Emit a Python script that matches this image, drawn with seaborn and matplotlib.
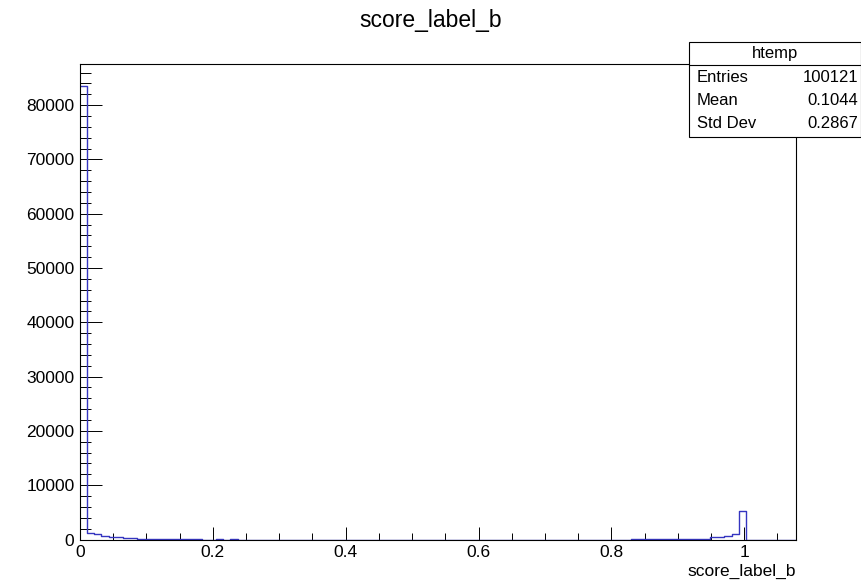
import numpy as np
import pandas as pd
import matplotlib
matplotlib.use("Agg")
import matplotlib.pyplot as plt
import seaborn as sns
from matplotlib.ticker import MultipleLocator
from matplotlib.patches import Rectangle
from matplotlib.lines import Line2D

# ---- data ----
n_bins = 100
x_min, x_max = 0.0, 1.078
counts = [0] * n_bins
left_counts = [83500, 1250, 950, 700, 500, 380, 260, 210, 180, 160, 150, 140,
               130, 120, 110, 100, 90]
for i, c in enumerate(left_counts):
    counts[i] = c
counts[19] = 60
counts[21] = 50
right_counts = [110, 120, 120, 130, 130, 140, 140, 150, 160, 170, 180,
                400, 420, 700, 1100, 5300]
for j, c in enumerate(right_counts):
    counts[77 + j] = c

stat_names = ["Entries", "Mean", "Std Dev"]
stat_values = ["100121", "0.1044", "0.2867"]
hist_name = "htemp"
title = "score_label_b"
x_label = "score_label_b"

edges = np.linspace(x_min, x_max, n_bins + 1)
centers = 0.5 * (edges[:-1] + edges[1:])
df = pd.DataFrame({"x": centers, "w": counts})

# ---- figure ----
sns.set_style("white")
plt.rcParams["font.family"] = ["Liberation Sans", "DejaVu Sans"]
plt.rcParams["text.color"] = "black"
plt.rcParams["axes.labelcolor"] = "black"

W, H = 862, 583
fig = plt.figure(figsize=(W / 100, H / 100), dpi=100)
ax = fig.add_axes([80 / W, 1 - 539.5 / H, (796 - 80) / W, (539.5 - 64) / H])

sns.histplot(data=df, x="x", weights="w", bins=n_bins, binrange=(x_min, x_max),
             element="step", fill=False, color="#3535c0", linewidth=1.0, ax=ax)

ax.set_xlim(x_min, x_max)
ax.set_ylim(0, 87570)
ax.set_ylabel("")
ax.set_xlabel(x_label, loc="right", fontsize=12.5, labelpad=3, color="black")

for s in ax.spines.values():
    s.set_color("black")
    s.set_linewidth(0.8)
    s.set_zorder(3)

ax.xaxis.set_major_locator(MultipleLocator(0.2))
ax.xaxis.set_minor_locator(MultipleLocator(0.05))
ax.yaxis.set_major_locator(MultipleLocator(10000))
ax.yaxis.set_minor_locator(MultipleLocator(2000))
ax.xaxis.set_major_formatter(matplotlib.ticker.FuncFormatter(lambda v, p: f"{v:g}"))
ax.yaxis.set_major_formatter(matplotlib.ticker.FuncFormatter(lambda v, p: f"{int(round(v))}"))

ax.tick_params(axis="both", which="both", direction="in", color="black",
               width=0.7, labelsize=12.5, labelcolor="black",
               left=True, bottom=True, top=False, right=False)
ax.tick_params(axis="x", which="major", length=9.4, pad=4)
ax.tick_params(axis="x", which="minor", length=5)
ax.tick_params(axis="y", which="major", length=15.8, pad=4)
ax.tick_params(axis="y", which="minor", length=8)

# title
fig.text(0.5, 1 - 21 / H, title, ha="center", va="center", fontsize=16.5,
         color="black")

# stats box
bx0, bx1 = 689 / W, 861 / W
by0, by1 = 1 - 137 / H, 1 - 42 / H
fig.patches.append(Rectangle((bx0, by0), bx1 - bx0, by1 - by0,
                             transform=fig.transFigure, facecolor="white",
                             edgecolor="black", linewidth=0.8, zorder=5))
fig.lines.append(Line2D([bx0, bx1], [1 - 65 / H, 1 - 65 / H],
                        transform=fig.transFigure, color="black",
                        linewidth=0.8, zorder=6))
fig.text((bx0 + bx1) / 2, 1 - 53.5 / H, hist_name, ha="center", va="center",
         fontsize=12, zorder=7, color="black")
row_y = [77, 100.5, 124]
for name, val, yy in zip(stat_names, stat_values, row_y):
    fig.text(697 / W, 1 - yy / H, name, ha="left", va="center", fontsize=12,
             zorder=7, color="black")
    fig.text(858 / W, 1 - yy / H, val, ha="right", va="center", fontsize=12,
             zorder=7, color="black")

fig.savefig("out.png", dpi=100)
